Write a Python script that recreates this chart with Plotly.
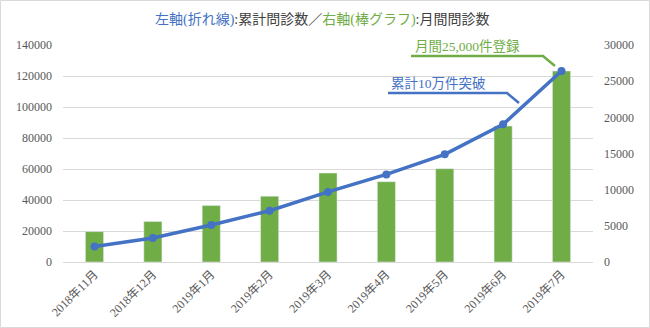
import plotly.graph_objects as go

months = ["2018年11月", "2018年12月", "2019年1月", "2019年2月", "2019年3月",
          "2019年4月", "2019年5月", "2019年6月", "2019年7月"]
cumulative = [10000, 15500, 23900, 33100, 45200, 56500, 69500, 88800, 123200]
monthly = [4200, 5600, 7800, 9100, 12300, 11100, 12900, 18800, 26400]
left_ticks = [0, 20000, 40000, 60000, 80000, 100000, 120000, 140000]
right_ticks = [0, 5000, 10000, 15000, 20000, 25000, 30000]

W, H = 650, 328
ML, MR, MT, MB = 63, 57, 45, 66
PW, PH = W - ML - MR, H - MT - MB

def px(x):
    return (x - ML) / PW

def py(y):
    return 1 - (y - MT) / PH

BLUE = "#4472C4"
GREEN = "#70AD47"
FONT = "Liberation Serif, Noto Sans CJK JP, serif"

fig = go.Figure()
fig.add_trace(go.Bar(x=months, y=monthly, yaxis="y", marker_color=GREEN,
                     width=0.31, name="月間問診数"))
fig.add_trace(go.Scatter(x=months, y=cumulative, yaxis="y2", mode="lines+markers",
                         line=dict(color=BLUE, width=3.5),
                         marker=dict(color=BLUE, size=8), name="累計問診数"))

fig.update_layout(
    width=W, height=H,
    margin=dict(l=ML, r=MR, t=MT, b=MB),
    paper_bgcolor="white", plot_bgcolor="white",
    showlegend=False,
    font=dict(family=FONT, size=12, color="#595959"),
    xaxis=dict(tickangle=-45, showgrid=False, showline=False, ticks="",
               automargin=False, ticklabelstandoff=2,
               tickfont=dict(size=12, color="#595959")),
    yaxis=dict(side="right", range=[0, 30000], tickvals=right_ticks, tickformat="d",
               showgrid=False, zeroline=False, ticks="", ticklabelstandoff=10,
               automargin=False,
               tickfont=dict(size=12, color="#595959")),
    yaxis2=dict(side="left", overlaying="y", range=[0, 140000], tickvals=left_ticks,
                tickformat="d", automargin=False,
                showgrid=True, gridcolor="#D9D9D9", gridwidth=1,
                zeroline=True, zerolinecolor="#D9D9D9", zerolinewidth=1,
                ticks="", ticklabelstandoff=10,
                tickfont=dict(size=12, color="#595959")),
)

title = (f'<span style="color:{BLUE}">左軸(折れ線)</span>'
         f'<span style="color:#404040">:累計問診数／</span>'
         f'<span style="color:{GREEN}">右軸(棒グラフ)</span>'
         f'<span style="color:#404040">:月間問診数</span>')
fig.add_annotation(text=title, xref="paper", yref="paper", x=px(322), y=py(20),
                   showarrow=False, xanchor="center", yanchor="middle",
                   font=dict(family=FONT, size=14))

# callouts
fig.add_shape(type="path", xref="paper", yref="paper",
              path=f"M {px(411)} {py(56)} L {px(543)} {py(56)} L {px(555)} {py(66)}",
              line=dict(color=GREEN, width=2.5))
fig.add_annotation(text="月間25,000件登録", xref="paper", yref="paper",
                   x=px(413), y=py(47), showarrow=False, xanchor="left", yanchor="middle",
                   font=dict(family=FONT, size=13.5, color=GREEN))
fig.add_shape(type="path", xref="paper", yref="paper",
              path=f"M {px(388)} {py(93)} L {px(507)} {py(93)} L {px(519)} {py(103)}",
              line=dict(color=BLUE, width=2.5))
fig.add_annotation(text="累計10万件突破", xref="paper", yref="paper",
                   x=px(389), y=py(83), showarrow=False, xanchor="left", yanchor="middle",
                   font=dict(family=FONT, size=13.5, color=BLUE))

# outer border
fig.add_shape(type="rect", xref="paper", yref="paper",
              x0=px(0.5), x1=px(W - 0.5), y0=py(H - 0.5), y1=py(0.5),
              line=dict(color="#D9D9D9", width=1), layer="below")

fig.write_html("out.html")
